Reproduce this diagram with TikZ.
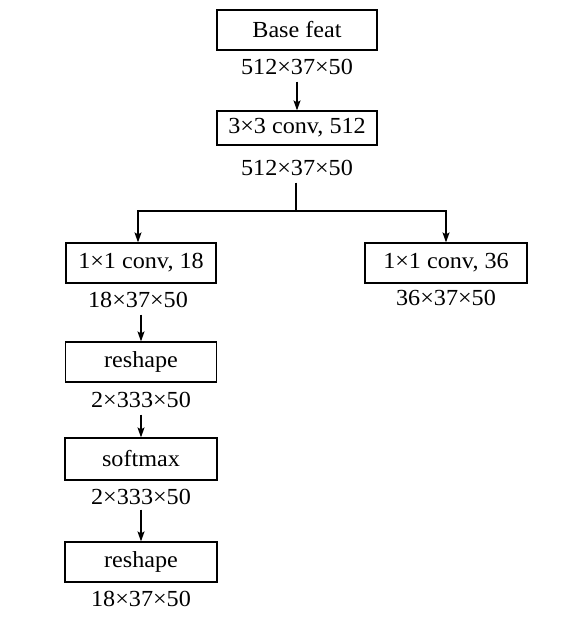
\documentclass[tikz,border=0pt]{standalone}
\usepackage{fontspec}
\setmainfont{Liberation Serif}[FakeStretch=1.05]
\usetikzlibrary{arrows.meta}
\begin{document}
\begin{tikzpicture}[x=1pt,y=-1pt,
  box/.style={draw,line width=1.2pt,inner sep=0pt,minimum height=40pt,font=\fontsize{23}{27}\selectfont},
  lbl/.style={inner sep=0pt,text height=15pt,text depth=0pt,font=\fontsize{23}{27}\selectfont},
  arr/.style={line width=1.2pt,-{Stealth[length=10pt,width=7pt,inset=2pt]}},
  ln/.style={line width=1.2pt}]
\useasboundingbox (0,0) rectangle (584,621);
\node[box,minimum width=160pt] (base) at (297,30) {Base feat};
\node[lbl] (t0) at (297,67) {512×37×50};
\node[box,minimum width=160pt,minimum height=34pt] (conv3) at (297,128) {3×3 conv, 512};
\node[lbl] (t1) at (297,168) {512×37×50};
\coordinate (split) at (296,211);
\node[box,minimum width=150pt] (conv18) at (141,263) {1×1 conv, 18};
\node[lbl] (t18) at (138,300) {18×37×50};
\node[box,minimum width=162pt] (conv36) at (446,263) {1×1 conv, 36};
\node[lbl] (t36) at (446,298) {36×37×50};
\node[box,minimum width=151pt] (resh1) at (141,362) {reshape};
\node[lbl] (tr1) at (141,400) {2×333×50};
\node[box,minimum width=152pt,minimum height=42pt] (soft) at (141,459) {softmax};
\node[lbl] (tsm) at (141,497) {2×333×50};
\node[box,minimum width=152pt] (resh2) at (141,562) {reshape};
\node[lbl] (tr2) at (141,599) {18×37×50};
\draw[arr,shorten <=7pt] (t0.south -| conv3.north) -- (conv3.north);
\draw[ln,shorten <=7pt] (t1.south -| split) -- (split);
\draw[arr] (split) -| ([xshift=-3pt]conv18.north);
\draw[arr] (split) -| (conv36.north);
\draw[arr,shorten <=7pt] (t18.south -| resh1.north) -- (resh1.north);
\draw[arr,shorten <=7pt] (tr1.south) -- (soft.north);
\draw[arr,shorten <=5pt] (tsm.south) -- (resh2.north);
\end{tikzpicture}
\end{document}
